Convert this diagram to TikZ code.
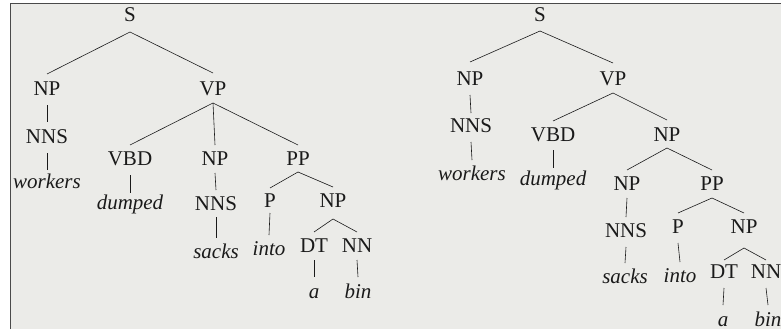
\documentclass[tikz,border=0pt]{standalone}
\usepackage{fontspec}
\setmainfont{Liberation Serif}
\definecolor{paper}{HTML}{EBEBE8}
\definecolor{ink}{HTML}{1A1A1A}
\definecolor{frame}{HTML}{4A4A4A}
% one branch of a tree: from just below the parent's baseline to just above the child's
\newcommand\branch[4]{\draw[branchline] ([yshift=-#3pt]#1.base) -- ([yshift=#4pt]#2.base);}
\begin{document}
\begin{tikzpicture}[x=1pt,y=-1pt,
  cat/.style={anchor=base,inner sep=0pt,text=ink,font=\fontsize{21}{25}\selectfont},
  word/.style={cat,font=\fontsize{21}{25}\selectfont\itshape},
  branchline/.style={draw=ink,line width=0.6pt}]
\useasboundingbox (0,0) rectangle (781,329);
% page and frame
\fill[paper] (10,3) rectangle (781,329);
\draw[frame,line width=1.2pt] (10.6,329) -- (10.6,3.6) -- (781,3.6);

% ---- left tree: VP -> VBD NP PP
\node[cat] (lS) at (130,22) {S};
\node[cat] (lNP) at (47,95) {NP};
\node[cat] (lVP) at (213,95) {VP};
\node[cat] (lNNS) at (47,143) {NNS};
\node[word] (lw1) at (47,188) {workers};
\node[cat] (lVBD) at (130,165) {VBD};
\node[cat] (lNPo) at (215,165) {NP};
\node[cat] (lPP) at (298,165) {PP};
\node[word] (lw2) at (130,209) {dumped};
\node[cat] (lNNSo) at (216,210) {NNS};
\node[word] (lw3) at (216,258) {sacks};
\node[cat] (lP) at (270,207) {P};
\node[cat] (lNPp) at (333,207) {NP};
\node[word] (lw4) at (269,255) {into};
\node[cat] (lDT) at (314,252) {DT};
\node[cat] (lNN) at (357,252) {NN};
\node[word] (lw5) at (314,298) {a};
\node[word] (lw6) at (358,298) {bin};

\branch{lS}{lNP}{10}{21}
\branch{lS}{lVP}{10}{22}
\branch{lNP}{lNNS}{10}{21}
\branch{lNNS}{lw1}{10}{18}
\branch{lVP}{lVBD}{8}{20}
\branch{lVP}{lNPo}{8}{20}
\branch{lVP}{lPP}{8}{20}
\branch{lVBD}{lw2}{10}{16}
\branch{lNPo}{lNNSo}{8}{20}
\branch{lNNSo}{lw3}{7}{20}
\branch{lPP}{lP}{7}{19}
\branch{lPP}{lNPp}{7}{20}
\branch{lP}{lw4}{6}{20}
\branch{lNPp}{lDT}{12}{20}
\branch{lNPp}{lNN}{12}{20}
\branch{lDT}{lw5}{8}{21}
\branch{lNN}{lw6}{8}{21}

% ---- right tree: VP -> VBD NP, NP -> NP PP
\node[cat] (rS) at (540,22) {S};
\node[cat] (rNP) at (470,85) {NP};
\node[cat] (rVP) at (613,85) {VP};
\node[cat] (rNNS) at (471,132) {NNS};
\node[word] (rw1) at (472,180) {workers};
\node[cat] (rVBD) at (553,141) {VBD};
\node[cat] (rNPo) at (667,141) {NP};
\node[word] (rw2) at (553,185) {dumped};
\node[cat] (rNPi) at (627,190) {NP};
\node[cat] (rPP) at (712,190) {PP};
\node[cat] (rNNSo) at (626,237) {NNS};
\node[word] (rw3) at (625,283) {sacks};
\node[cat] (rP) at (678,233) {P};
\node[cat] (rNPp) at (744,233) {NP};
\node[word] (rw4) at (680,282) {into};
\node[cat] (rDT) at (724,278) {DT};
\node[cat] (rNN) at (766,278) {NN};
\node[word] (rw5) at (723,326) {a};
\node[word] (rw6) at (768,326) {bin};

\branch{rS}{rNP}{9}{23}
\branch{rS}{rVP}{9}{22}
\branch{rNP}{rNNS}{10}{19}
\branch{rNNS}{rw1}{10}{20}
\branch{rVP}{rVBD}{8}{20}
\branch{rVP}{rNPo}{8}{21}
\branch{rVBD}{rw2}{9}{17}
\branch{rNPo}{rNPi}{7}{20}
\branch{rNPo}{rPP}{7}{20}
\branch{rNPi}{rNNSo}{8}{20}
\branch{rNNSo}{rw3}{10}{20}
\branch{rPP}{rP}{8}{20}
\branch{rPP}{rNPp}{8}{20}
\branch{rP}{rw4}{10}{20}
\branch{rNPp}{rDT}{15}{18}
\branch{rNPp}{rNN}{15}{18}
\branch{rDT}{rw5}{10}{21}
\branch{rNN}{rw6}{10}{21}
\end{tikzpicture}
\end{document}
